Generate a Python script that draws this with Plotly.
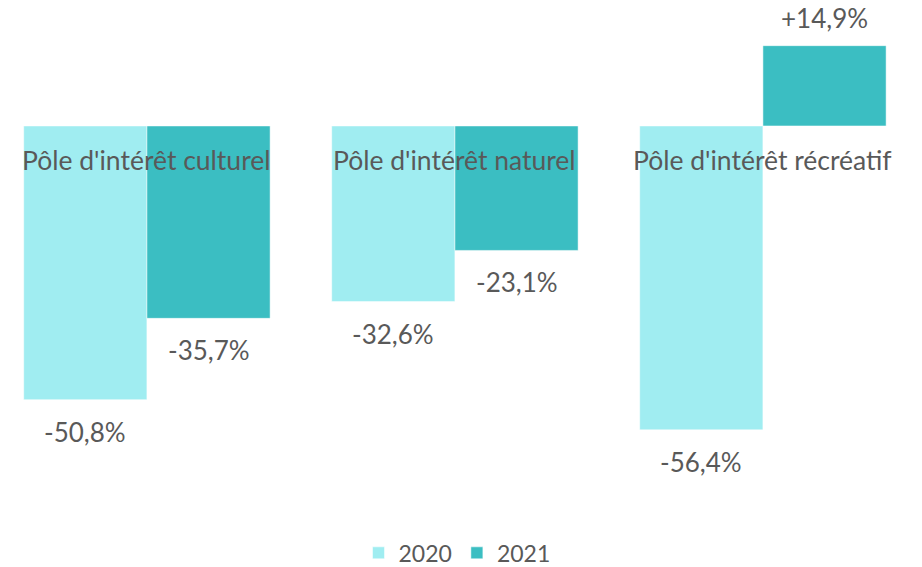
import plotly.graph_objects as go

# Évolution de la fréquentation par type de pôle d'intérêt
categories = ["Pôle d'intérêt culturel", "Pôle d'intérêt naturel", "Pôle d'intérêt récréatif"]
values_2020 = [-50.8, -32.6, -56.4]
values_2021 = [-35.7, -23.1, 14.9]
series_names = ["2020", "2021"]
colors = ["#A0EDF1", "#3BBEC2"]
text_color = "#595959"


def fmt(v):
    s = f"{v:+.1f}%".replace(".", ",")
    return s if v > 0 else s.replace("+", "")


fig = go.Figure()
idx = list(range(len(categories)))
for name, vals, col in zip(series_names, [values_2020, values_2021], colors):
    fig.add_trace(go.Bar(
        x=idx, y=vals, name=name,
        marker=dict(color=col, line=dict(color="rgba(255,255,255,0.5)", width=1)),
        hoverinfo="y+name",
    ))

# value labels under/over each bar
for k, vals in enumerate([values_2020, values_2021]):
    offset = -0.2 if k == 0 else 0.2
    for i, v in enumerate(vals):
        fig.add_annotation(
            x=i + offset, y=v, text=fmt(v), showarrow=False,
            yshift=-32 if v < 0 else 28,
            font=dict(family="Lato", size=26, color=text_color),
        )

# category labels on the zero line
for i, c in enumerate(categories):
    fig.add_annotation(
        x=i, y=0, text=c, showarrow=False, yshift=-34,
        font=dict(family="Lato", size=26.5, color=text_color),
    )

fig.update_layout(
    width=922, height=567,
    margin=dict(l=0, r=0, t=20, b=67, autoexpand=False),
    paper_bgcolor="white", plot_bgcolor="white",
    barmode="group", bargap=0.2, bargroupgap=0,
    font=dict(family="Lato", size=18, color=text_color),
    xaxis=dict(range=[-0.451, 2.5425], visible=False, fixedrange=True),
    yaxis=dict(range=[-70.9, 18.18], visible=False, fixedrange=True),
    showlegend=True,
    legend=dict(orientation="h", x=0.487, xanchor="center", xref="container",
                y=0.039, yanchor="middle", yref="container",
                font=dict(family="Lato", size=23, color=text_color),
                itemwidth=30, traceorder="normal"),
)

fig.write_html("out.html")
